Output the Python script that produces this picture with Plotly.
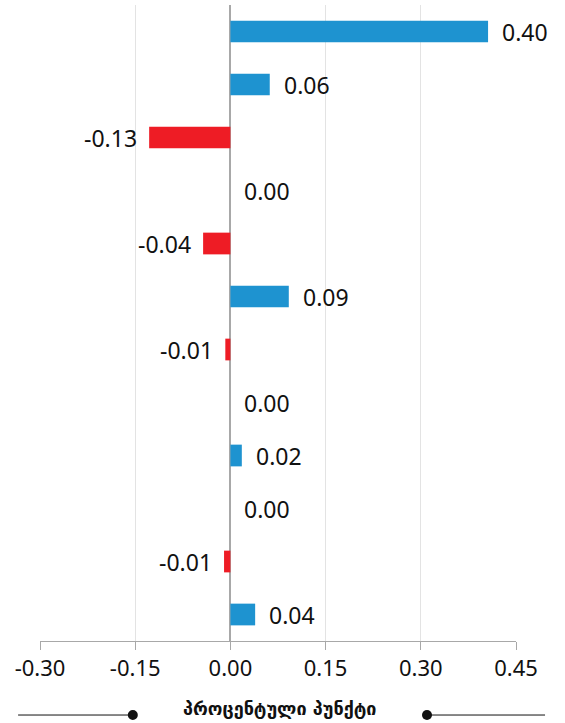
import plotly.graph_objects as go

categories = ["c1", "c2", "c3", "c4", "c5", "c6", "c7", "c8", "c9", "c10", "c11", "c12"]
values = [0.406, 0.062, -0.128, 0.0, -0.043, 0.092, -0.008, 0.0, 0.018, 0.0, -0.010, 0.039]
labels = ["0.40", "0.06", "-0.13", "0.00", "-0.04", "0.09", "-0.01", "0.00", "0.02", "0.00", "-0.01", "0.04"]
tick_vals = [-0.30, -0.15, 0.00, 0.15, 0.30, 0.45]
tick_text = ["-0.30", "-0.15", "0.00", "0.15", "0.30", "0.45"]
axis_title = "პროცენტული პუნქტი"

BLUE = "#1e93d0"
RED = "#ee1c25"
FONT = "Noto Sans"

colors = [BLUE if v >= 0 else RED for v in values]

fig = go.Figure()
fig.add_trace(go.Bar(
    y=categories, x=values, orientation="h",
    marker=dict(color=colors, line=dict(width=0)),
    width=0.41, hoverinfo="skip",
))

for c, v, t in zip(categories, values, labels):
    neg = v < 0
    fig.add_annotation(
        x=v, y=c, text=t, showarrow=False,
        xanchor="right" if neg else "left",
        xshift=-10 if neg else 12,
        font=dict(family=FONT, size=23, color="#111111"),
    )

fig.update_layout(
    width=565, height=723,
    margin=dict(l=40, r=49, t=5, b=82),
    plot_bgcolor="white", paper_bgcolor="white",
    showlegend=False,
    font=dict(family=FONT, color="#111111"),
    xaxis=dict(
        range=[-0.30, 0.45], tickvals=tick_vals, ticktext=tick_text,
        showgrid=True, gridcolor="#e3e3e3", gridwidth=1,
        zeroline=True, zerolinecolor="#a8a8a8", zerolinewidth=1.5,
        showline=True, linecolor="#a8a8a8", linewidth=1,
        ticks="outside", ticklen=8, tickcolor="#a8a8a8",
        tickfont=dict(family=FONT, size=22, color="#111111"),
        fixedrange=True,
    ),
    yaxis=dict(
        categoryorder="array", categoryarray=categories[::-1],
        showticklabels=False, showgrid=False, zeroline=False,
        range=[-0.5, len(categories) - 0.5], fixedrange=True,
    ),
)

TY = -0.1164
fig.add_annotation(
    x=0.504, y=-0.1265, xref="paper", yref="paper", yanchor="bottom",
    text="<b>" + axis_title + "</b>", showarrow=False,
    font=dict(family="DejaVu Sans", size=18, color="#111111"),
)
# decorative lines with dots on either side of axis title
fig.add_shape(type="line", xref="paper", yref="paper", x0=-0.046, x1=0.195, y0=TY, y1=TY,
              line=dict(color="#111111", width=1))
fig.add_shape(type="line", xref="paper", yref="paper", x0=0.813, x1=1.061, y0=TY, y1=TY,
              line=dict(color="#111111", width=1))
fig.add_shape(type="circle", xref="paper", yref="paper", x0=0.1845, x1=0.2055, y0=TY - 0.0079, y1=TY + 0.0079,
              fillcolor="#111111", line=dict(width=0))
fig.add_shape(type="circle", xref="paper", yref="paper", x0=0.8025, x1=0.8235, y0=TY - 0.0079, y1=TY + 0.0079,
              fillcolor="#111111", line=dict(width=0))

fig.write_html("out.html", config={"displayModeBar": False},
               post_script="document.body.style.margin='0';document.body.style.overflow='hidden';")
